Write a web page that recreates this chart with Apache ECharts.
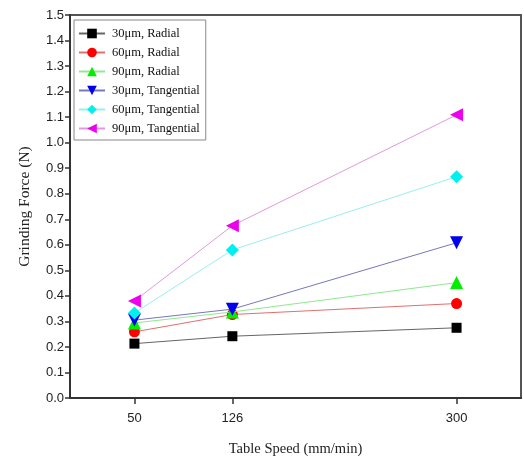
<!DOCTYPE html>
<html>
<head>
<meta charset="utf-8">
<script src="https://cdn.jsdelivr.net/npm/echarts@6/dist/echarts.min.js"></script>
<style>
  html, body { margin: 0; padding: 0; background: #fff; }
  #chart { width: 524px; height: 456px; }
</style>
</head>
<body>
<div id="chart"></div>
<script>
// Table speed (mm/min) and grinding force (N) per grain size / force direction
const tableSpeeds = [50, 126, 300];
const radial30 = [0.213, 0.242, 0.275];
const radial60 = [0.259, 0.327, 0.37];
const radial90 = [0.294, 0.337, 0.452];
const tangential30 = [0.305, 0.348, 0.608];
const tangential60 = [0.333, 0.58, 0.867];
const tangential90 = [0.38, 0.675, 1.109];
const seriesNames = ['30μm, Radial', '60μm, Radial', '90μm, Radial',
  '30μm, Tangential', '60μm, Tangential', '90μm, Tangential'];
const yTicks = [0, 0.1, 0.2, 0.3, 0.4, 0.5, 0.6, 0.7, 0.8, 0.9, 1.0, 1.1, 1.2, 1.3, 1.4, 1.5];

const seriesValues = [radial30, radial60, radial90, tangential30, tangential60, tangential90];
const markerColors = ['#000000', '#ff0000', '#00ee00', '#0000ee', '#00f0f0', '#ee00ee'];
const lineColors = ['#666666', '#e07070', '#90e890', '#7777bb', '#99eeee', '#e099e0'];
const symbols = ['rect', 'circle', 'triangle', 'triangle', 'diamond', 'triangle'];
const rotations = [0, 0, 0, 180, 0, 90];
const sizes = [10, 11, 13, 13, 13, 13];

const chart = echarts.init(document.getElementById('chart'), null, { renderer: 'canvas' });

const series = seriesValues.map((vals, i) => ({
  name: seriesNames[i],
  type: 'line',
  data: vals.map((v, j) => [tableSpeeds[j], v]),
  symbol: symbols[i],
  symbolRotate: rotations[i],
  symbolSize: sizes[i],
  showAllSymbol: true,
  lineStyle: { color: lineColors[i], width: 1 },
  itemStyle: { color: markerColors[i] },
  emphasis: { disabled: true },
  z: 2 + i
}));

const option = {
  animation: false,
  backgroundColor: '#ffffff',
  grid: {
    left: 70, top: 15, right: 3, bottom: 58,
    containLabel: false,
    outerBoundsMode: 'none',
    show: true,
    borderColor: '#555555',
    borderWidth: 2,
    backgroundColor: 'transparent'
  },
  legend: {
    left: 74, top: 20,
    orient: 'vertical',
    itemWidth: 26, itemHeight: 12,
    itemGap: 6,
    padding: [7, 6, 5, 4],
    borderColor: '#888888',
    borderWidth: 1,
    backgroundColor: '#ffffff',
    textStyle: { fontFamily: 'Liberation Serif', fontSize: 12.5, color: '#111', padding: [0, 0, 0, 2] },
    data: seriesNames
  },
  xAxis: {
    type: 'value',
    min: 0, max: 350,
    name: 'Table Speed (mm/min)',
    nameLocation: 'middle',
    nameGap: 44,
    nameTextStyle: { fontFamily: 'Liberation Serif', fontSize: 14.5, color: '#222' },
    axisLine: { show: true, lineStyle: { color: '#333', width: 2 } },
    axisTick: { show: true, length: 6, lineStyle: { color: '#333', width: 1.5 }, customValues: tableSpeeds },
    axisLabel: { customValues: tableSpeeds, margin: 14, fontFamily: 'Liberation Sans', fontSize: 13, color: '#222' },
    splitLine: { show: false }
  },
  yAxis: {
    type: 'value',
    min: 0, max: 1.5, interval: 0.1,
    name: 'Grinding Force (N)',
    nameLocation: 'middle',
    nameGap: 37,
    nameTextStyle: { fontFamily: 'Liberation Serif', fontSize: 15.5, color: '#222' },
    axisLine: { show: true, lineStyle: { color: '#333', width: 2 } },
    axisTick: { show: true, length: 5, lineStyle: { color: '#333', width: 1.5 } },
    axisLabel: {
      margin: 6, fontFamily: 'Liberation Sans', fontSize: 13, color: '#222',
      formatter: v => {
        const t = yTicks.find(k => Math.abs(k - v) < 1e-6);
        return (t !== undefined ? t : v).toFixed(1);
      }
    },
    splitLine: { show: false }
  },
  series: series
};

chart.setOption(option);
</script>
</body>
</html>
